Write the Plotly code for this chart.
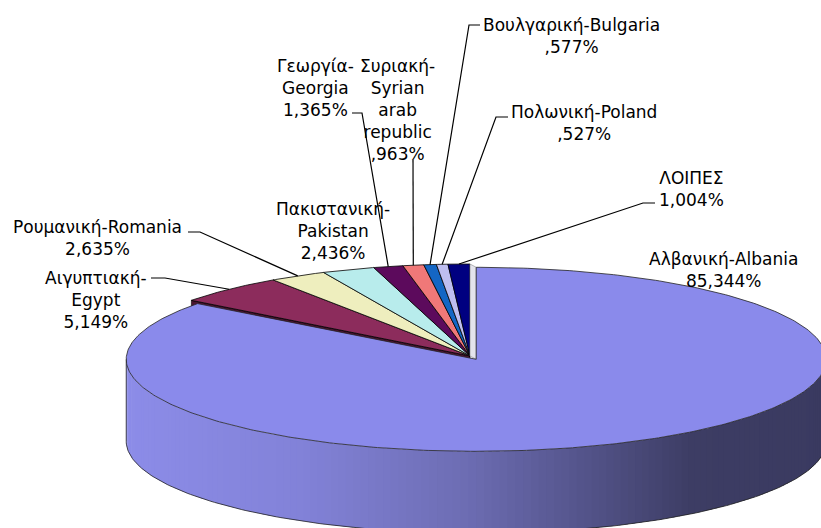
import numpy as np
import plotly.graph_objects as go

# ---- data ----
categories = ["Αλβανική-Albania", "Αιγυπτιακή-<br>Egypt", "Ρουμανική-Romania",
              "Πακιστανική-<br>Pakistan", "Γεωργία-<br>Georgia",
              "Συριακή-<br>Syrian<br>arab<br>republic", "Βουλγαρική-Bulgaria",
              "Πολωνική-Poland", "ΛΟΙΠΕΣ"]
values = [85.344, 5.149, 2.635, 2.436, 1.365, 0.963, 0.577, 0.527, 1.004]
colors = ["#8A8AEB", "#8C2C5C", "#EEEEBE", "#B8ECEC", "#5C0A5C",
          "#F07878", "#1466C4", "#BEBEF0", "#000080"]
pulls = [0.04, 0, 0, 0, 0, 0, 0, 0, 0]

# label placement (layout): block centre and leader elbow points
label_pos = [(723, 270), (96, 300), (97, 238), (333, 231), (315, 88),
             (397, 110), (571, 36), (584, 123), (691, 189)]
leader_elbows = [None, [(151, 278), (165, 278)], [(188, 232), (200, 232)], None,
                 [(352, 113), (362, 113)], [(413, 160)],
                 [(480, 25), (469, 25)], [(508, 117), (496, 117)],
                 [(655, 203), (643, 203)]]

# ---- geometry of the tilted pie ----
CX, CY = 470.0, 356.0
A, B = 350.0, 92.0
DEPTH = 82.0


def fmt(v):
    s = f"{v:.3f}".replace(".", ",")
    if s.startswith("0"):
        s = s[1:]
    return s + "%"


total = sum(values)
bounds = np.concatenate([[0], np.cumsum(values)]) / total * 360.0


def pt(cx, cy, th):
    r = np.radians(th)
    return cx + A * np.sin(r), cy - B * np.cos(r)


def centre(i):
    mid = (bounds[i] + bounds[i + 1]) / 2
    r = np.radians(mid)
    return CX + pulls[i] * A * np.sin(r), CY - pulls[i] * B * np.cos(r)


fig = go.Figure()


def poly(xs, ys, fill, line_color="#000000", lw=0.8):
    fig.add_trace(go.Scatter(x=list(xs), y=list(ys), mode="lines", fill="toself",
                             fillcolor=fill,
                             line=dict(color=line_color, width=lw),
                             hoverinfo="skip", showlegend=False))


# Egypt radial cut face (visible in the gap of the exploded slice)
ex, ey = centre(1)
rx, ry = pt(ex, ey, bounds[1])
poly([ex, rx, rx, ex, ex], [ey, ry, ry + DEPTH, ey + DEPTH, ey], "#4A1430", lw=0.6)

# small slices top faces
for i in range(1, len(values)):
    cx, cy = centre(i)
    th = np.linspace(bounds[i], bounds[i + 1], 40)
    xs, ys = pt(cx, cy, th)
    poly(np.concatenate([[cx], xs, [cx]]), np.concatenate([[cy], ys, [cy]]), colors[i])

# exposed cut face between Others and Albania
ax_, ay_ = centre(0)
sx, sy = centre(len(values) - 1)
p1 = pt(sx, sy, 360.0)
p2 = pt(ax_, ay_, 0.0)
poly([p1[0], p2[0], ax_, sx, p1[0]], [p1[1], p2[1], ay_, sy, p1[1]], "#E4E4EC",
     line_color="#888888", lw=0.6)

# Albania outer wall with horizontal shading
grad_x = [126, 300, 467, 600, 690, 830]
grad_c = np.array([[140, 140, 232], [130, 130, 216], [108, 108, 178],
                   [80, 80, 132], [61, 61, 100], [58, 58, 96]])
n = 140
edges = np.linspace(90, 270, n + 1)
for k in range(n):
    t0, t1 = edges[k], min(edges[k + 1] + 0.6, 270)
    x0, y0 = pt(ax_, ay_, t0)
    x1, y1 = pt(ax_, ay_, t1)
    xm = (x0 + x1) / 2
    c = [int(round(np.interp(xm, grad_x, grad_c[:, j]))) for j in range(3)]
    col = f"rgb({c[0]},{c[1]},{c[2]})"
    fig.add_trace(go.Scatter(x=[x0, x1, x1, x0, x0],
                             y=[y0, y1, y1 + DEPTH, y0 + DEPTH, y0],
                             mode="lines", fill="toself", fillcolor=col,
                             line=dict(width=0, color=col),
                             hoverinfo="skip", showlegend=False))
# wall outline
th = np.linspace(90, 270, 200)
bx, by = pt(ax_, ay_, th)
lx, ly = pt(ax_, ay_, 270)
fig.add_trace(go.Scatter(x=list(bx) + [None, lx, lx], y=list(by + DEPTH) + [None, ly, ly + DEPTH],
                         mode="lines", line=dict(color="#222222", width=0.8),
                         hoverinfo="skip", showlegend=False))

# Albania top face
th = np.linspace(bounds[0], bounds[1], 400)
xs, ys = pt(ax_, ay_, th)
poly(np.concatenate([[ax_], xs, [ax_]]), np.concatenate([[ay_], ys, [ay_]]), colors[0],
     line_color="#222222", lw=0.8)

# leader lines
for i, elb in enumerate(leader_elbows):
    if elb is None:
        continue
    cx, cy = centre(i)
    mid = (bounds[i] + bounds[i + 1]) / 2
    rx, ry = pt(cx, cy, mid)
    xs = [p[0] for p in elb] + [rx]
    ys = [p[1] for p in elb] + [ry]
    fig.add_trace(go.Scatter(x=xs, y=ys, mode="lines",
                             line=dict(color="#000000", width=1.2),
                             hoverinfo="skip", showlegend=False))

# labels
for i, (lx, ly) in enumerate(label_pos):
    fig.add_annotation(x=lx, y=ly, xref="x", yref="y",
                       text=categories[i] + "<br>" + fmt(values[i]),
                       showarrow=False, xanchor="center", yanchor="middle",
                       align="center",
                       font=dict(family="DejaVu Sans", size=17, color="#000000"))

fig.update_layout(
    width=821, height=528, autosize=False,
    margin=dict(l=0, r=0, t=0, b=0, pad=0),
    paper_bgcolor="#FFFFFF", plot_bgcolor="#FFFFFF",
    xaxis=dict(range=[0, 821], visible=False, fixedrange=True),
    yaxis=dict(range=[528, 0], visible=False, fixedrange=True),
    showlegend=False,
)

fig.write_html("out.html", config={"displayModeBar": False},
               post_script="document.body.style.margin='0';document.body.style.overflow='hidden';")
